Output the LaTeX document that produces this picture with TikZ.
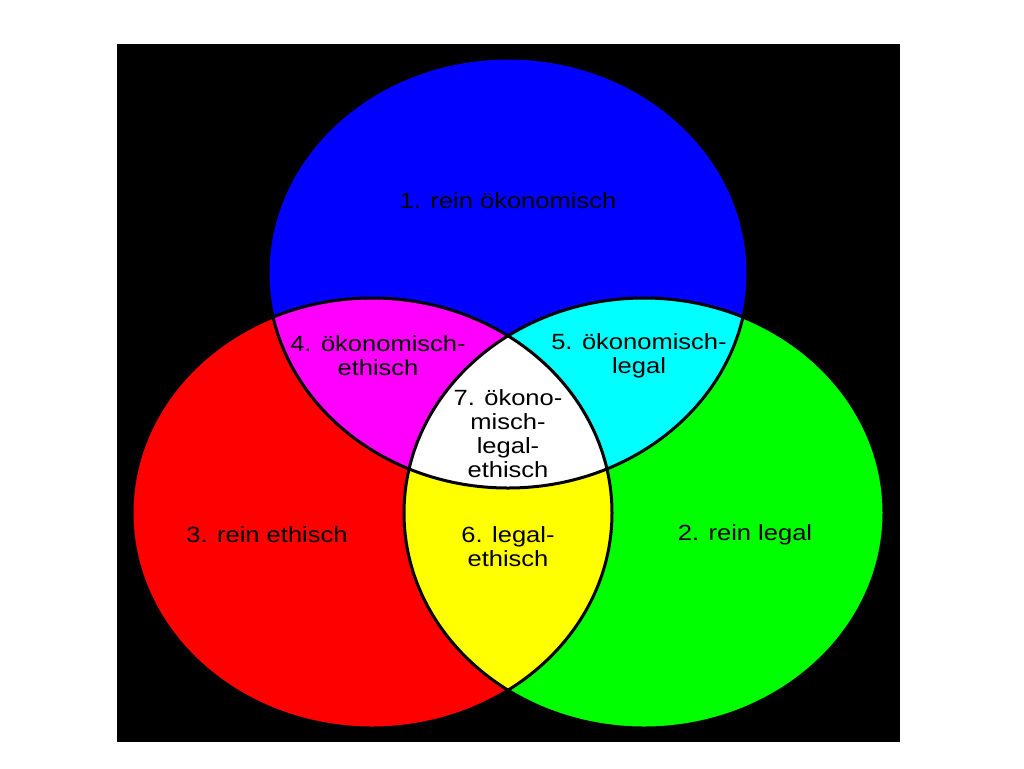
\documentclass[tikz,border=0pt]{standalone}
\usepackage{fontspec}
\newfontfamily\vennfont[FakeStretch=1.16]{Liberation Sans}
\definecolor{oekblue}{RGB}{0,0,255}
\definecolor{ethred}{RGB}{255,0,0}
\definecolor{leggreen}{RGB}{0,255,0}
\definecolor{oekethmag}{RGB}{255,0,255}
\definecolor{oeklegcyan}{RGB}{0,255,255}
\definecolor{legethyellow}{RGB}{255,255,0}

\begin{document}
\begin{tikzpicture}[x=1pt, y=-1pt,
      rim/.style={draw=black, line width=3pt},
      venntext/.style={font=\vennfont\fontsize{22}{24}\selectfont, align=center, text=black},
      oval/.style={x radius=240, y radius=215}]
  %.
  \useasboundingbox (0,0) rectangle (1024,768);
  \fill[black] (117,44) rectangle (900,742);
  \coordinate (oek) at (508,273);
  \coordinate (eth) at (372,513);
  \coordinate (leg) at (644,513);
  %.
  \fill[oekblue]  (oek) ellipse [oval];
  \fill[ethred]   (eth) ellipse [oval];
  \fill[leggreen] (leg) ellipse [oval];
  \begin{scope}
    \clip (eth) ellipse [oval];
    \fill[legethyellow] (leg) ellipse [oval];
  \end{scope}
  \begin{scope}
    \clip (oek) ellipse [oval];
    \fill[oekethmag] (eth) ellipse [oval];
    \fill[oeklegcyan] (leg) ellipse [oval];
    \clip (eth) ellipse [oval];
    \fill[white] (leg) ellipse [oval];
  \end{scope}
  \draw[rim] (oek) ellipse [oval];
  \draw[rim] (eth) ellipse [oval];
  \draw[rim] (leg) ellipse [oval];
  %.
  \node[venntext] (reinoek) at (508,201) {1. rein ökonomisch};
  \node[venntext] (reinleg) at (745,535) {2. rein legal};
  \node[venntext] (reineth) at (267,535) {3. rein ethisch};
  \node[venntext] (oeketh) at (378,356) {4. ökonomisch-\\ethisch};
  \node[venntext] (oekleg) at (639,356) {5. ökonomisch-\\legal};
  \node[venntext] (legeth) at (508,547) {6. legal-\\ethisch};
  \node[venntext] (alle) at (508,434) {7. ökono-\\misch-\\legal-\\ethisch};
  %.
\end{tikzpicture}
\end{document}
